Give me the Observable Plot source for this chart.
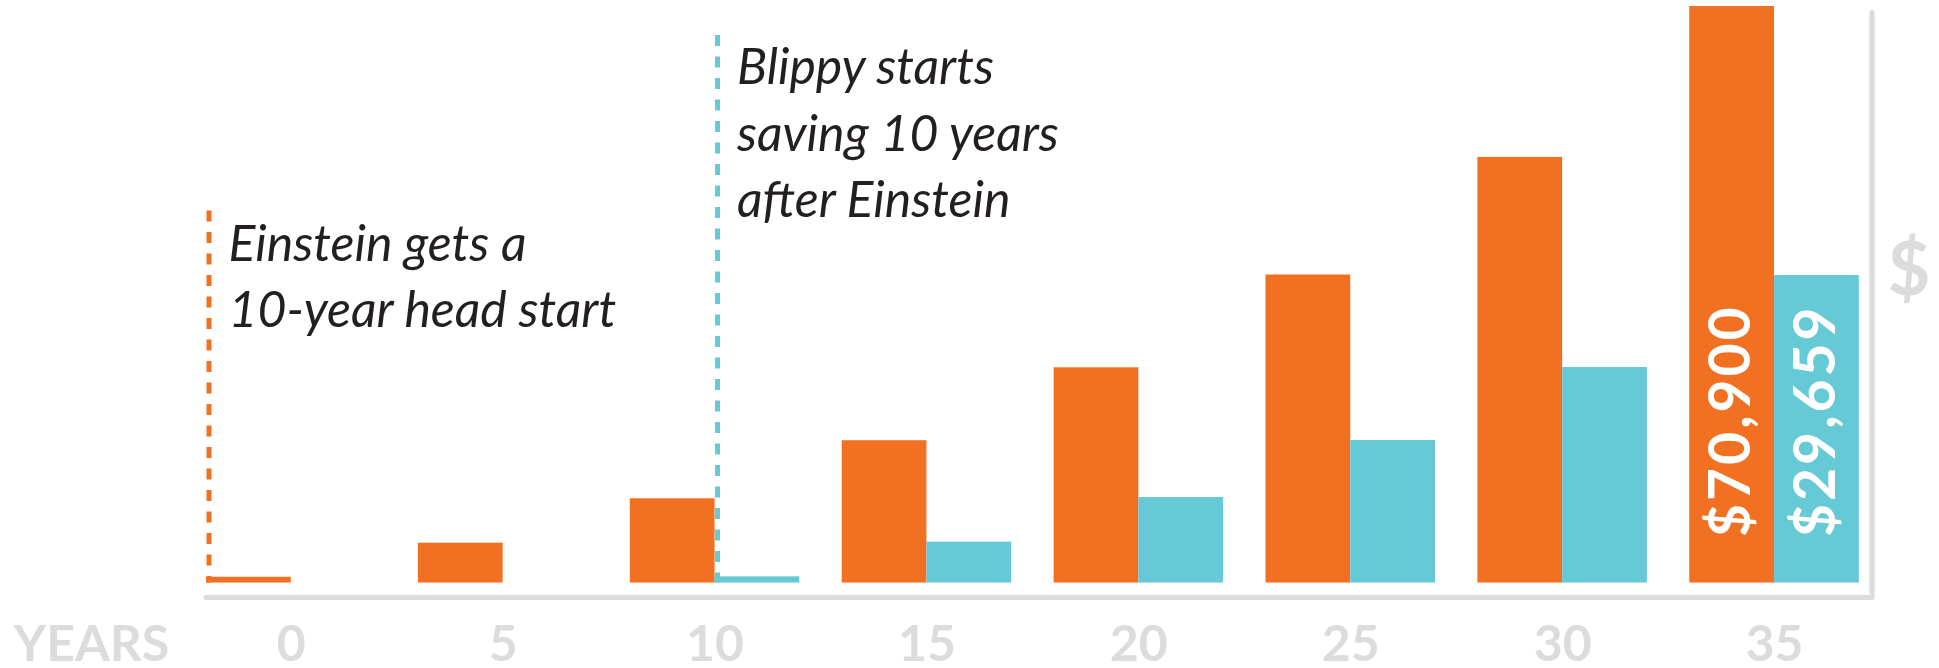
<!DOCTYPE html>
<html>
<head>
<meta charset="utf-8">
<script src="https://cdn.jsdelivr.net/npm/d3@7"></script>
<script src="https://cdn.jsdelivr.net/npm/@observablehq/plot@0.6"></script>
<style>
  html, body { margin: 0; padding: 0; background: #ffffff; }
  #chart { width: 1939px; height: 668px; }
</style>
</head>
<body>
<div id="chart"></div>
<script>
// ---- data ----
const years = [0, 5, 10, 15, 20, 25, 30, 35];
const einstein = [710, 4900, 10360, 17500, 26470, 37880, 52340, 70900];
const blippy = [null, null, 760, 5030, 10520, 17530, 26500, 37820];
const seriesNames = ["Einstein", "Blippy"];
const seriesColors = ["#f17022", "#66c9d6"];
const valueLabels = ["$70,900", "$29,659"];
const annoYears = [0, 10];
const annoSeries = ["Einstein", "Blippy"];
const annoText = ["Einstein gets a\n10-year head start", "Blippy starts\nsaving 10 years\nafter Einstein"];
const xAxisTitle = "YEARS";
const yAxisTitle = "$";

// ---- derived tables ----
const barW = 2; // bar width in years
const left = (s, yr) => s === "Einstein" ? yr - barW : yr;
const right = (s, yr) => s === "Einstein" ? yr : yr + barW;
const bars = [];
years.forEach((yr, i) => {
  bars.push({year: yr, series: "Einstein", value: einstein[i]});
  if (blippy[i] != null) bars.push({year: yr, series: "Blippy", value: blippy[i]});
});
const last = years.length - 1;
const labels = seriesNames.map((s, i) => ({year: years[last], series: s, text: valueLabels[i]}));
const annos = annoYears.map((yr, i) => ({year: yr, series: annoSeries[i], text: annoText[i]}));
const color = s => seriesColors[seriesNames.indexOf(s)];

const xDomain = [-2, 37.3];
const yDomain = [-1780, 70900];
const grey = "#dcdcdc";

const annoLayout = [{insetTop: 204.5, dy: 206.8}, {insetTop: 29, dy: 30.2}];

const marks = [];
annos.forEach((a, i) => {
  marks.push(Plot.ruleX([a], {
    x: d => left(d.series, d.year), dx: 2.5,
    stroke: color(a.series), strokeWidth: 5, strokeDasharray: "11,10.5",
    insetTop: annoLayout[i].insetTop, insetBottom: 14.5
  }));
  marks.push(Plot.text([a], {
    x: d => left(d.series, d.year), dx: 22,
    frameAnchor: "top", dy: annoLayout[i].dy, lineAnchor: "top",
    text: d => d.text, textAnchor: "start", lineHeight: 1.332,
    fontFamily: "Lato", fontStyle: "italic", fontWeight: "normal", fontSize: 50,
    fill: "#231f20"
  }));
});
marks.push(
  Plot.rectY(bars, {
    x1: d => left(d.series, d.year), x2: d => right(d.series, d.year),
    y: "value", fill: d => color(d.series)
  }),
  Plot.text(labels, {
    x: d => (left(d.series, d.year) + right(d.series, d.year)) / 2, y: 0,
    dy: -46, rotate: -90, textAnchor: "start", lineAnchor: "middle",
    text: "text", fill: "#ffffff", fontFamily: "Lato", fontWeight: "bold", fontSize: 57
  }),
  Plot.ruleY([yDomain[0]], {stroke: grey, strokeWidth: 5, strokeLinecap: "round"}),
  Plot.ruleX([xDomain[1]], {stroke: grey, strokeWidth: 5, strokeLinecap: "round", insetTop: 6.5}),
  Plot.text([xAxisTitle], {
    text: d => d, frameAnchor: "bottom-left", dx: -115, dy: 28, lineAnchor: "top",
    textAnchor: "middle", fill: grey, fontFamily: "Lato", fontWeight: "bold", fontSize: 50
  }),
  Plot.text([yAxisTitle], {
    text: d => d, frameAnchor: "right", dx: 37, dy: -31, lineAnchor: "middle",
    textAnchor: "middle", fill: grey, fontFamily: "Lato", fontWeight: "bold", fontSize: 74
  })
);

const chart = Plot.plot({
  width: 1939,
  height: 668,
  marginLeft: 206,
  marginRight: 67.5,
  marginTop: 6,
  marginBottom: 71,
  style: {
    background: "#ffffff",
    color: grey,
    fontFamily: "Lato",
    fontSize: "50px",
    fontWeight: "bold",
    overflow: "visible"
  },
  x: {domain: xDomain, ticks: years, tickFormat: d => String(d), tickSize: 0, tickPadding: 28, label: null},
  y: {domain: yDomain, axis: null},
  marks
});
// widen the letter spacing of the rotated value labels a little, as in the reference
d3.select(chart).selectAll("text")
  .filter(function () { return valueLabels.includes(this.textContent); })
  .style("letter-spacing", "3px");
document.getElementById("chart").appendChild(chart);
</script>
</body>
</html>
